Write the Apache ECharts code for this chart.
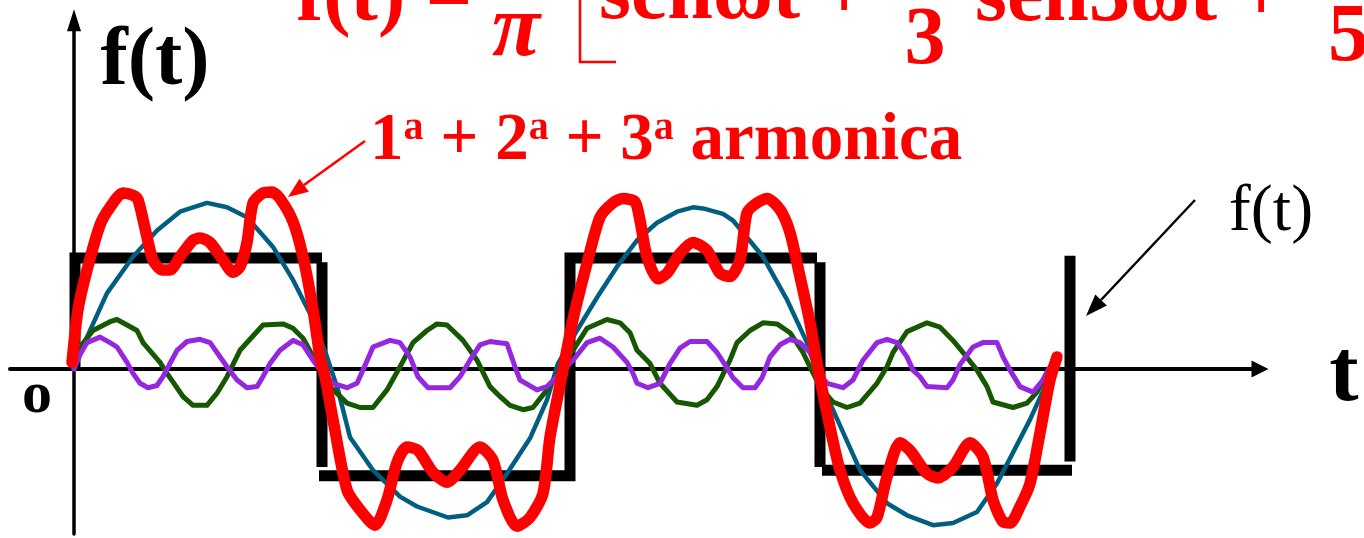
<!DOCTYPE html>
<html>
<head>
<meta charset="utf-8">
<title>Serie di Fourier dell'onda quadra</title>
<script src="https://cdn.jsdelivr.net/npm/echarts@6/dist/echarts.min.js"></script>
<style>
  html, body { margin: 0; padding: 0; background: #ffffff; }
  #chart { width: 1364px; height: 538px; }
</style>
</head>
<body>
<div id="chart"></div>
<script>
// t: time (period ~500), y: amplitude relative to the square wave level (±1)

// square wave f(t), drawn as separate strokes ('-' breaks the line)
const squareWave = [
  [1, 0], [1, 1.01], [248, 1.01], ['-', '-'],
  [248, 0.97], [248, -0.89], ['-', '-'],
  [245, -0.97], [496, -0.97], [496, 1.01], [743, 1.01], ['-', '-'],
  [746, 0.97], [746, -0.89], ['-', '-'],
  [748, -0.92], [998, -0.92], ['-', '-'],
  [996, 1.03], [996, -0.84]
];

// 1st harmonic
const harmonic1 = [
  [0, 0], [13, 0.29], [33, 0.69], [59, 1.02], [83, 1.26], [106, 1.43], [133, 1.51],
  [153, 1.47], [173, 1.38], [199, 1.11], [219, 0.81], [239, 0.45], [253, 0.11],
  [264, -0.19], [276, -0.62], [299, -0.92], [326, -1.16], [343, -1.25], [374, -1.35],
  [393, -1.33], [413, -1.21], [433, -0.95], [456, -0.63], [473, -0.28], [484, 0.05],
  [503, 0.35], [523, 0.65], [543, 0.93], [563, 1.17], [583, 1.33], [603, 1.43],
  [619, 1.47], [629, 1.46], [649, 1.41], [659, 1.35], [689, 1.02], [713, 0.63],
  [733, 0.24], [744, -0.03], [756, -0.31], [786, -0.92], [813, -1.22], [833, -1.33],
  [859, -1.42], [879, -1.40], [903, -1.30], [923, -1.04], [939, -0.76], [956, -0.46],
  [971, -0.16], [980, 0.03]
];

// 2nd harmonic (3ωt)
const harmonic2 = [
  [0, 0], [6, 0.20], [19, 0.35], [36, 0.43], [43, 0.45], [63, 0.35], [69, 0.24],
  [86, 0.06], [93, -0.04], [109, -0.25], [119, -0.33], [133, -0.33], [143, -0.22],
  [153, -0.07], [166, 0.17], [189, 0.40], [209, 0.41], [219, 0.37], [229, 0.28],
  [243, 0.05], [256, -0.16], [273, -0.31], [286, -0.35], [299, -0.35], [313, -0.19],
  [326, 0.02], [339, 0.24], [353, 0.35], [363, 0.41], [373, 0.40], [389, 0.26],
  [403, 0.08], [416, -0.16], [426, -0.25], [436, -0.33], [449, -0.37], [459, -0.35],
  [473, -0.19], [486, -0.01], [499, 0.17], [513, 0.37], [533, 0.45], [546, 0.42],
  [556, 0.33], [563, 0.17], [576, 0.05], [586, -0.13], [603, -0.30], [623, -0.33],
  [633, -0.28], [643, -0.16], [656, 0.08], [663, 0.24], [676, 0.35], [689, 0.42],
  [703, 0.41], [716, 0.33], [729, 0.15], [736, 0.02], [746, -0.16], [759, -0.30],
  [773, -0.35], [786, -0.31], [803, -0.13], [813, 0.02], [819, 0.15], [833, 0.34],
  [853, 0.42], [866, 0.38], [879, 0.26], [889, 0.15], [903, -0.01], [913, -0.16],
  [919, -0.30], [939, -0.35], [953, -0.31], [963, -0.21], [974, -0.01]
];

// 3rd harmonic (5ωt)
const harmonic3 = [
  [0, 0], [6, 0.13], [13, 0.24], [26, 0.29], [36, 0.24], [43, 0.20], [53, 0.06],
  [59, -0.04], [66, -0.13], [74, -0.17], [83, -0.15], [89, -0.07], [96, 0.05],
  [103, 0.17], [113, 0.25], [126, 0.27], [136, 0.24], [143, 0.15], [153, 0.02],
  [163, -0.10], [173, -0.17], [183, -0.16], [189, -0.07], [196, 0.05], [206, 0.17],
  [219, 0.26], [229, 0.22], [239, 0.08], [249, -0.04], [259, -0.13], [273, -0.17],
  [283, -0.13], [289, -0.01], [299, 0.20], [316, 0.26], [326, 0.24], [336, 0.11],
  [344, -0.07], [354, -0.17], [376, -0.17], [386, -0.07], [396, 0.08], [406, 0.22],
  [416, 0.25], [433, 0.23], [441, 0.02], [446, -0.10], [463, -0.19], [473, -0.16],
  [486, -0.04], [499, 0.08], [513, 0.24], [526, 0.28], [539, 0.20], [553, 0.06],
  [559, -0.04], [563, -0.13], [574, -0.17], [586, -0.13], [596, 0.05], [606, 0.19],
  [616, 0.25], [633, 0.25], [643, 0.15], [653, 0.01], [659, -0.08], [669, -0.17],
  [681, -0.17], [688, -0.08], [696, 0.11], [706, 0.22], [716, 0.27], [726, 0.24],
  [736, 0.15], [743, -0.01], [753, -0.13], [769, -0.17], [779, -0.10], [789, 0.08],
  [803, 0.24], [813, 0.27], [823, 0.24], [833, 0.11], [839, -0.01], [846, -0.07],
  [853, -0.16], [873, -0.17], [879, -0.10], [886, 0.04], [899, 0.20], [909, 0.24],
  [923, 0.24], [929, 0.11], [936, -0.01], [946, -0.16], [959, -0.21], [969, -0.10],
  [976, 0.02]
];

// sum of the first three harmonics
const harmonicSum = [
  [-2, 0.06], [4, 0.54], [13, 0.90], [26, 1.31], [36, 1.47], [49, 1.60], [59, 1.58],
  [64, 1.54], [73, 1.20], [79, 0.99], [88, 0.90], [96, 0.90], [106, 1.02], [119, 1.17],
  [126, 1.19], [136, 1.15], [149, 0.99], [159, 0.88], [166, 0.93], [173, 1.15],
  [179, 1.51], [189, 1.60], [198, 1.61], [206, 1.55], [219, 1.34], [229, 1.02],
  [239, 0.54], [246, 0.11], [251, -0.07], [259, -0.46], [273, -1.10], [286, -1.28],
  [301, -1.42], [313, -1.19], [323, -0.85], [333, -0.71], [344, -0.74], [359, -0.94],
  [373, -1.03], [386, -0.92], [406, -0.71], [419, -0.83], [429, -1.19], [443, -1.43],
  [456, -1.35], [469, -1.13], [476, -0.62], [489, -0.01], [499, 0.45], [513, 0.96],
  [526, 1.38], [539, 1.51], [549, 1.55], [561, 1.52], [566, 1.35], [573, 1.02],
  [584, 0.82], [593, 0.87], [606, 1.05], [619, 1.15], [633, 1.08], [646, 0.87],
  [656, 0.84], [666, 0.99], [673, 1.42], [683, 1.51], [693, 1.55], [706, 1.45],
  [716, 1.24], [726, 0.84], [736, 0.42], [743, 0.05], [756, -0.53], [766, -0.92],
  [779, -1.22], [796, -1.40], [803, -1.35], [813, -0.98], [826, -0.67], [836, -0.74],
  [853, -0.95], [864, -0.99], [879, -0.89], [896, -0.67], [909, -0.80], [919, -1.19],
  [929, -1.39], [936, -1.40], [946, -1.25], [956, -1.04], [966, -0.58], [976, -0.10],
  [983, 0.11]
];

// drawn labels
const formulaParts = ['f(t) =', 'π', 'senωt +', '3', 'sen3ωt +', '5'];
const sumLabel = ['1', 'a', ' + 2', 'a', ' + 3', 'a', ' armonica'];
const axisNames = { y: 'f(t)', x: 't', origin: 'o', wave: 'f(t)' };

const SERIF = "'Liberation Serif', 'DejaVu Serif', 'Times New Roman', serif";
const RED = '#ff0000';

const chart = echarts.init(document.getElementById('chart'), null, { renderer: 'canvas' });

function lineSeries(name, data, color, width, extra) {
  return Object.assign({
    name: name,
    type: 'line',
    data: data,
    showSymbol: false,
    symbol: 'none',
    connectNulls: false,
    silent: true,
    lineStyle: { color: color, width: width, cap: 'round', join: 'round' }
  }, extra || {});
}

function txt(text, x, y, size, opts) {
  opts = opts || {};
  return {
    type: 'text',
    x: x, y: y,
    silent: true,
    z: 100,
    style: {
      text: text,
      fill: opts.color || '#000000',
      font: (opts.style || 'normal') + ' ' + (opts.weight || 'bold') + ' ' + size + 'px ' + SERIF,
      align: opts.align || 'left',
      verticalAlign: opts.valign || 'middle',
      textAlign: opts.align || 'left',
      textVerticalAlign: opts.valign || 'middle'
    }
  };
}

const option = {
  animation: false,
  backgroundColor: '#ffffff',
  grid: { left: 10, right: 104, top: 20.3, bottom: 4, containLabel: false },
  xAxis: {
    type: 'value', min: -64, max: 1186,
    axisLine: { show: true, onZero: true, symbol: ['none', 'triangle'], symbolSize: [17, 17],
      lineStyle: { color: '#000000', width: 4 } },
    axisTick: { show: false }, axisLabel: { show: false }, splitLine: { show: false }
  },
  yAxis: {
    type: 'value', min: -1.5, max: 3.17,
    axisLine: { show: true, onZero: true, symbol: ['none', 'triangle'], symbolSize: [14, 22],
      lineStyle: { color: '#000000', width: 3.5 } },
    axisTick: { show: false }, axisLabel: { show: false }, splitLine: { show: false }
  },
  series: [
    lineSeries('f(t)', squareWave, '#000000', 11, { lineStyle: { color: '#000000', width: 11, cap: 'butt', join: 'miter' } }),
    lineSeries('1ª armonica', harmonic1, '#005f80', 4.5),
    lineSeries('2ª armonica', harmonic2, '#165800', 5),
    lineSeries('3ª armonica', harmonic3, '#9428e0', 5),
    lineSeries('1ª + 2ª + 3ª armonica', harmonicSum, RED, 11.5, { smooth: 0.25 })
  ],
  graphic: [
    // formula, partly above the top edge
    txt(formulaParts[0], 296, 40, 82, { color: RED, valign: 'bottom' }),
    txt(formulaParts[1], 516, 76, 88, { color: RED, align: 'center', valign: 'bottom', style: 'italic' }),
    { type: 'polyline', silent: true, z: 100,
      shape: { points: [[580, -4], [580, 62], [616, 62]] },
      style: { stroke: RED, lineWidth: 2.5, fill: null } },
    txt(formulaParts[2], 599, 38, 82, { color: RED, valign: 'bottom' }),
    txt(formulaParts[3], 925, 83, 82, { color: RED, align: 'center', valign: 'bottom' }),
    txt(formulaParts[4], 975, 40, 82, { color: RED, valign: 'bottom' }),
    txt(formulaParts[5], 1328, 80, 82, { color: RED, valign: 'bottom' }),

    // axis names
    txt(axisNames.y, 155, 63, 82, { align: 'center' }),
    txt(axisNames.origin, 37, 396, 60, { align: 'center' }),
    txt(axisNames.x, 1344, 377, 88, { align: 'center' }),
    txt(axisNames.wave, 1271, 213, 66, { align: 'center', weight: 'normal' }),

    // label of the summed curve
    {
      type: 'text', x: 370, y: 142, silent: true, z: 100,
      style: {
        text: '{n|' + sumLabel[0] + '}{s|' + sumLabel[1] + '}{n|' + sumLabel[2] + '}{s|' + sumLabel[3] +
              '}{n|' + sumLabel[4] + '}{s|' + sumLabel[5] + '}{n|' + sumLabel[6] + '}',
        align: 'left', verticalAlign: 'middle',
        rich: {
          n: { fontSize: 67, fontWeight: 'bold', fontFamily: SERIF, fill: RED, color: RED, lineHeight: 67 },
          s: { fontSize: 40, fontWeight: 'bold', fontFamily: SERIF, fill: RED, color: RED, lineHeight: 40, verticalAlign: 'top' }
        }
      }
    },
    // arrow from the label to the red curve
    { type: 'line', silent: true, z: 100,
      shape: { x1: 365, y1: 141, x2: 304, y2: 185 },
      style: { stroke: RED, lineWidth: 2.5 } },
    { type: 'polygon', silent: true, z: 100,
      shape: { points: [[288, 197], [308.9, 191.7], [299.5, 178.7]] },
      style: { fill: RED } },
    // arrow from the f(t) label to the square wave
    { type: 'line', silent: true, z: 100,
      shape: { x1: 1195, y1: 200, x2: 1101, y2: 300 },
      style: { stroke: '#000000', lineWidth: 2.5 } },
    { type: 'polygon', silent: true, z: 100,
      shape: { points: [[1086, 316], [1106.9, 305.5], [1095.3, 294.5]] },
      style: { fill: '#000000' } }
  ]
};

chart.setOption(option);
</script>
</body>
</html>
